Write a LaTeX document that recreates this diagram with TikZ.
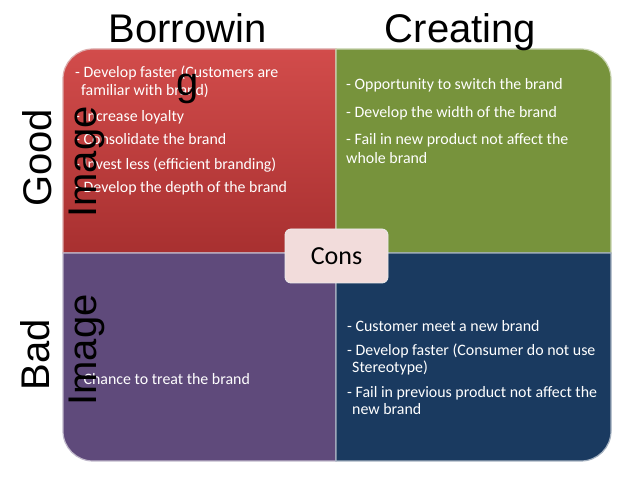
\documentclass[tikz,border=0pt]{standalone}
\usepackage{fontspec}
\setmainfont{Carlito}
\newfontfamily\headfont{Liberation Sans}
\definecolor{redA}{HTML}{D24C4B}
\definecolor{redB}{HTML}{A83030}
\definecolor{greenq}{HTML}{77933C}
\definecolor{purpleq}{HTML}{5F4A7B}
\definecolor{blueq}{HTML}{1A3A60}
\definecolor{consfill}{HTML}{F2DCDB}
\tikzset{
  quadline/.style={draw=white!60!#1, line width=1.2pt},
  bodytext/.style={font=\fontsize{15.9}{18}\selectfont, text=white, anchor=base west, inner sep=0pt},
  headtext/.style={font=\headfont\fontsize{40}{40}\selectfont, text=black, anchor=base, inner sep=0pt},
  consbox/.style={draw=white!85!gray, line width=0.8pt, fill=consfill, rounded corners=6pt,
    minimum width=103pt, minimum height=54pt, font=\fontsize{26}{26}\selectfont, text=black}
}
\begin{document}
\begin{tikzpicture}[x=1pt,y=1pt]
\useasboundingbox[fill=white] (0,0) rectangle (638,479);
% quadrants
\path[quadline=redB, top color=redA, bottom color=redB]
  (63,226) -- (63,400) arc (180:90:30) -- (336,430) -- (336,226) -- cycle;
\path[quadline=greenq, fill=greenq]
  (336,226) -- (336,430) -- (581,430) arc (90:0:30) -- (611,226) -- cycle;
\path[quadline=purpleq, fill=purpleq]
  (63,226) -- (63,48) arc (180:270:30) -- (336,18) -- (336,226) -- cycle;
\path[quadline=blueq, fill=blueq]
  (336,226) -- (336,18) -- (581,18) arc (270:360:30) -- (611,226) -- cycle;
% red text
\node[bodytext] (r1) at (75,401.5) {- Develop faster (Customers are};
\node[bodytext] (r2) at (81,383.5) {familiar with brand)};
\node[bodytext] (r3) at (75,357.5) {- Increase loyalty};
\node[bodytext] (r4) at (75,334.5) {- Consolidate the brand};
\node[bodytext] (r5) at (75,309.5) {- Invest less (efficient branding)};
\node[bodytext] (r6) at (75,286.5) {- Develop the depth of the brand};
% green text
\node[bodytext] (g1) at (346,389.5) {- Opportunity to switch the brand};
\node[bodytext] (g2) at (346,361.5) {- Develop the width of the brand};
\node[bodytext] (g3) at (346,334.5) {- Fail in new product not affect the};
\node[bodytext] (g4) at (346,315.5) {whole brand};
% purple text
\node[bodytext] (p1) at (75,94.5) {- Chance to treat the brand};
% blue text
\node[bodytext] (b1) at (347,147.5) {- Customer meet a new brand};
\node[bodytext] (b2) at (347,123.5) {- Develop faster (Consumer do not use};
\node[bodytext] (b3) at (352,106.5) {Stereotype)};
\node[bodytext] (b4) at (347,81.5) {- Fail in previous product not affect the};
\node[bodytext] (b5) at (352,64.5) {new brand};
% centre box
\node[consbox] (cons) at (336.5,223) {Cons};
% headings
\node[headtext] (borrow) at (187.5,436) {Borrowin};
\node[headtext] (borrowg) at (187.5,383) {g};
\node[headtext] (create) at (460.5,436) {Creating};
\node[headtext, rotate=90] (good) at (51,321) {Good};
\node[headtext, rotate=90] (img1) at (96,317) {Image};
\node[headtext, rotate=90] (bad) at (50,124) {Bad};
\node[headtext, rotate=90] (img2) at (96,129) {Image};
\end{tikzpicture}
\end{document}
